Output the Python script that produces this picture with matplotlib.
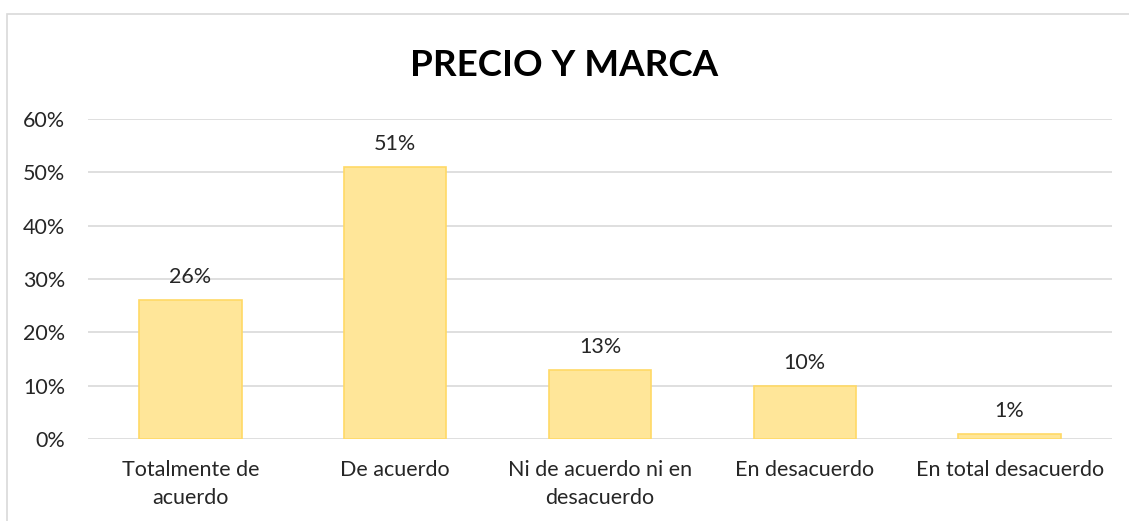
import matplotlib.pyplot as plt
from matplotlib.patches import Rectangle
from matplotlib.ticker import PercentFormatter

# data
categories = ["Totalmente de\nacuerdo", "De acuerdo", "Ni de acuerdo ni en\ndesacuerdo",
              "En desacuerdo", "En total desacuerdo"]
values = [26, 51, 13, 10, 1]
yticks = [0, 10, 20, 30, 40, 50, 60]

plt.rcParams['font.family'] = ['Lato', 'DejaVu Sans']

fig = plt.figure(figsize=(11.29, 5.21), dpi=100)
ax = fig.add_axes([88 / 1129, 1 - 439 / 521, (1112 - 88) / 1129, 320 / 521])

# chart border (only left and top visible in the crop)
fig.add_artist(Rectangle((7 / 1129, -0.1), 1.2, 1 - 14 / 521 + 0.1, transform=fig.transFigure,
                         fill=False, edgecolor="#D9D9D9", linewidth=1.2))

x = range(len(categories))
ax.bar(x, values, width=0.5, color="#FFE699", edgecolor="#FFD966", linewidth=1.2, zorder=3)

for i, v in enumerate(values):
    ax.text(i, v + 4.3, f"{v}%", ha="center", va="center", fontsize=15.5, color="#262626")

ax.set_xlim(-0.5, len(categories) - 0.5)
ax.set_ylim(0, 60)
ax.set_yticks(yticks)
ax.yaxis.set_major_formatter(PercentFormatter(decimals=0))
ax.set_xticks(list(x))
ax.set_xticklabels(categories, fontsize=15.5, color="#262626", linespacing=1.5)
ax.tick_params(axis="y", labelsize=15.5, labelcolor="#262626", length=0, pad=16.5)
ax.tick_params(axis="x", length=0, pad=15)
ax.grid(axis="y", color="#D9D9D9", linewidth=1.2, zorder=0)
for s in ax.spines.values():
    s.set_visible(False)

fig.text(0.5, 1 - 66 / 521, "PRECIO Y MARCA", ha="center", va="center",
         fontsize=26.5, fontweight="bold", color="#000000")

fig.savefig("out.png", dpi=100)
